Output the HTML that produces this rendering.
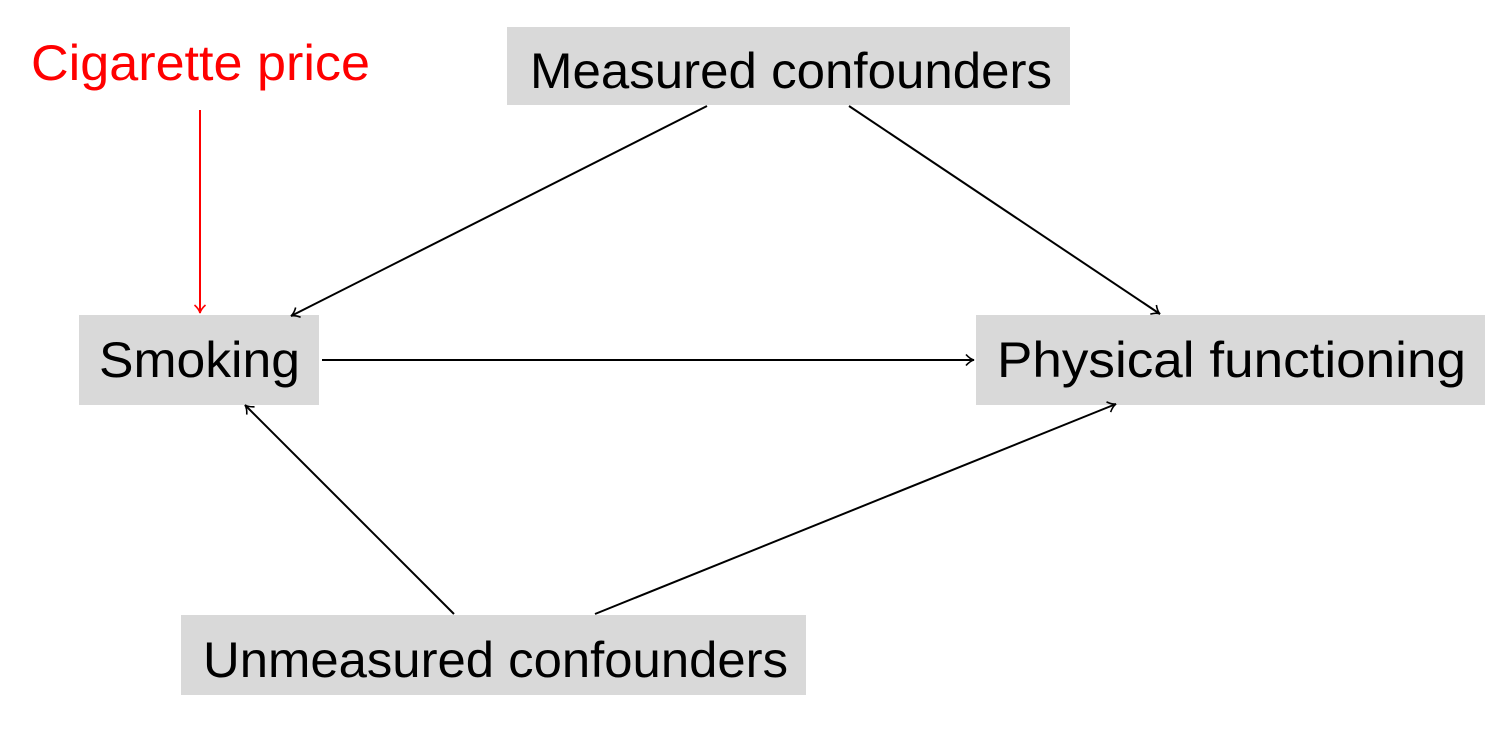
<!DOCTYPE html>
<html><head><style>
html,body{margin:0;padding:0;background:#fff;}
svg{display:block;}
text{font-family:"Liberation Sans",sans-serif;font-size:50px;}
</style></head><body>
<svg width="1498" height="730" viewBox="0 0 1498 730" xmlns="http://www.w3.org/2000/svg">
<defs>
<marker id="a" markerWidth="14" markerHeight="14" refX="10" refY="7" orient="auto" markerUnits="userSpaceOnUse">
<path d="M2,1.5 Q6,6 10,7 Q6,8 2,12.5" fill="none" stroke="#000" stroke-width="1.6"/>
</marker>
<marker id="r" markerWidth="14" markerHeight="14" refX="10" refY="7" orient="auto" markerUnits="userSpaceOnUse">
<path d="M2,1.5 Q6,6 10,7 Q6,8 2,12.5" fill="none" stroke="#f00" stroke-width="1.6"/>
</marker>
</defs>
<rect x="507" y="27" width="563" height="78" fill="#d9d9d9"/>
<rect x="79" y="315" width="240" height="90" fill="#d9d9d9"/>
<rect x="976" y="315" width="509" height="90" fill="#d9d9d9"/>
<rect x="181" y="615" width="625" height="80" fill="#d9d9d9"/>
<text x="530" y="88" textLength="522" lengthAdjust="spacingAndGlyphs">Measured confounders</text>
<text x="99" y="377" textLength="201" lengthAdjust="spacingAndGlyphs">Smoking</text>
<text x="997" y="377" textLength="469" lengthAdjust="spacingAndGlyphs">Physical functioning</text>
<text x="203" y="677" textLength="585" lengthAdjust="spacingAndGlyphs">Unmeasured confounders</text>
<text x="31" y="80" fill="#f00" textLength="339" lengthAdjust="spacingAndGlyphs">Cigarette price</text>
<g stroke="#000" stroke-width="2" fill="none">
<line x1="200" y1="110" x2="200" y2="313" stroke="#f00" marker-end="url(#r)"/>
<line x1="707" y1="106" x2="291" y2="316" marker-end="url(#a)"/>
<line x1="849" y1="106" x2="1160" y2="314" marker-end="url(#a)"/>
<line x1="322" y1="360" x2="974" y2="360" marker-end="url(#a)"/>
<line x1="454" y1="614" x2="245" y2="405" marker-end="url(#a)"/>
<line x1="595" y1="614" x2="1116" y2="404" marker-end="url(#a)"/>
</g>
</svg>
</body></html>
